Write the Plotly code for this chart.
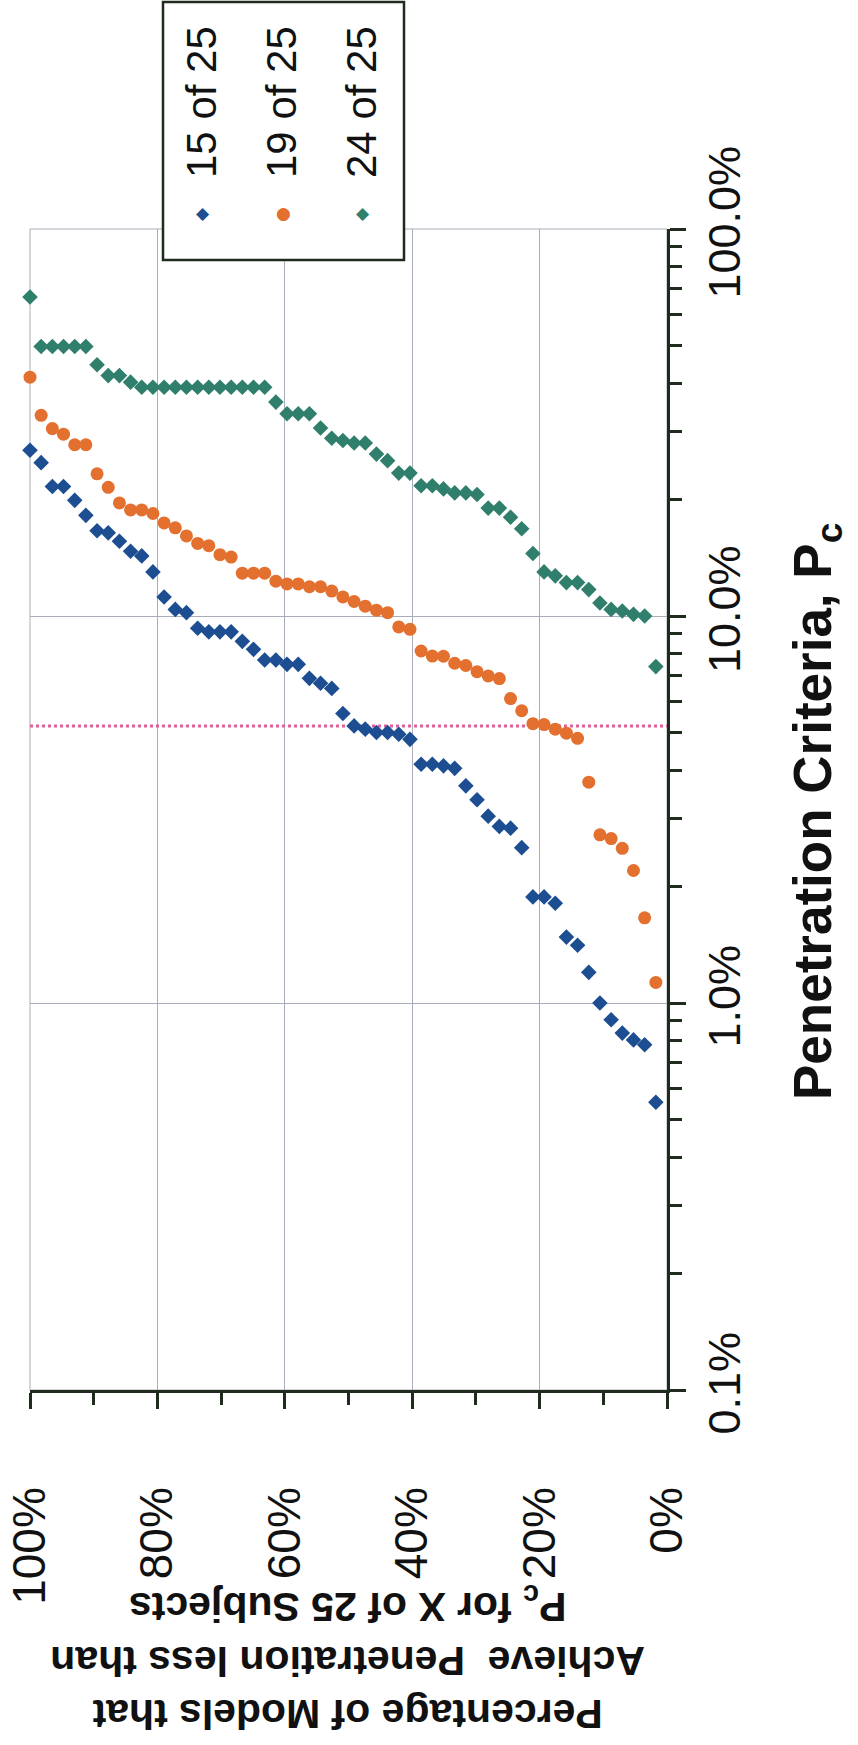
import plotly.graph_objects as go

# ---------------- data ----------------
# Percentage of models (57 models, sorted) -> horizontal axis
pct_of_models = [100.0, 98.25, 96.49, 94.74, 92.98, 91.23, 89.47, 87.72, 85.96, 84.21,
                 82.46, 80.70, 78.95, 77.19, 75.44, 73.68, 71.93, 70.18, 68.42, 66.67,
                 64.91, 63.16, 61.40, 59.65, 57.89, 56.14, 54.39, 52.63, 50.88, 49.12,
                 47.37, 45.61, 43.86, 42.11, 40.35, 38.60, 36.84, 35.09, 33.33, 31.58,
                 29.82, 28.07, 26.32, 24.56, 22.81, 21.05, 19.30, 17.54, 15.79, 14.04,
                 12.28, 10.53, 8.77, 7.02, 5.26, 3.51, 1.75]

# Penetration criteria Pc (%) for "15 of 25"
pen_15_of_25 = [26.8, 24.9, 21.6, 21.6, 19.9, 18.2, 16.6, 16.4, 15.6, 14.7,
                14.3, 13.0, 11.2, 10.4, 10.2, 9.3, 9.1, 9.1, 9.1, 8.6,
                8.2, 7.7, 7.7, 7.5, 7.5, 6.9, 6.7, 6.5, 5.6, 5.2,
                5.1, 5.0, 5.0, 4.95, 4.8, 4.14, 4.14, 4.1, 4.04, 3.64,
                3.35, 3.04, 2.86, 2.83, 2.52, 1.88, 1.88, 1.81, 1.48, 1.41,
                1.2, 1.0, 0.905, 0.836, 0.803, 0.78, 0.554]

# Penetration criteria Pc (%) for "19 of 25"
pen_19_of_25 = [41.4, 33.0, 30.5, 29.5, 27.7, 27.7, 23.3, 21.5, 19.6, 18.8,
                18.8, 18.4, 17.4, 16.9, 16.1, 15.4, 15.2, 14.4, 14.2, 12.9,
                12.9, 12.9, 12.3, 12.1, 12.1, 11.9, 11.9, 11.6, 11.2, 10.9,
                10.6, 10.35, 10.2, 9.37, 9.24, 8.12, 7.88, 7.87, 7.55, 7.45,
                7.18, 7.0, 6.89, 6.12, 5.69, 5.27, 5.24, 5.1, 4.98, 4.83,
                3.72, 2.72, 2.66, 2.51, 2.2, 1.66, 1.13]

# Penetration criteria Pc (%) for "24 of 25"
pen_24_of_25 = [66.7, 49.7, 49.7, 49.7, 49.7, 49.7, 44.6, 41.8, 41.8, 40.2,
                39.0, 39.0, 39.0, 39.0, 39.0, 39.0, 39.0, 39.0, 39.0, 39.0,
                39.0, 39.0, 35.7, 33.3, 33.3, 33.3, 30.6, 28.8, 28.4, 28.0,
                28.0, 26.2, 25.2, 23.4, 23.4, 21.7, 21.7, 21.3, 20.8, 20.8,
                20.6, 19.0, 19.0, 18.0, 16.8, 14.5, 13.0, 12.7, 12.2, 12.2,
                11.7, 10.8, 10.4, 10.3, 10.1, 10.0, 7.4]

series_names = ["15 of 25", "19 of 25", "24 of 25"]

# reference penetration level (dotted line), %
ref_level = 5.2
ref_span = [100, 0]

# tick labels
x_tick_vals = [100, 80, 60, 40, 20, 0]
x_tick_text = ["100%", "80%", "60%", "40%", "20%", "0%"]
x_minor_vals = [90, 70, 50, 30, 10]
y_tick_vals = [0.1, 1, 10, 100]
y_tick_text = ["0.1%", "1.0%", "10.0%", "100.0%"]
y_minor_vals = [0.2, 0.3, 0.4, 0.5, 0.6, 0.7, 0.8, 0.9,
                2, 3, 4, 5, 6, 7, 8, 9,
                20, 30, 40, 50, 60, 70, 80, 90]

# ---------------- style ----------------
W, H = 858, 1745
PL, PR, PT, PB = 30, 667, 229, 1390          # plot area in pixels
BLUE, ORANGE, GREEN = "#1d4e92", "#e3702e", "#2f7f6c"
REF = "#e0609a"
AX = "#1f2b1c"
GRID = "#a9adb9"
FONT = "Liberation Sans, Arial, sans-serif"
TXT = "#111111"


def px(xp):
    return (xp - PL) / (PR - PL)


def py(yp):
    return (PB - yp) / (PB - PT)


fig = go.Figure()

fig.add_trace(go.Scatter(x=ref_span, y=[ref_level, ref_level], mode="lines",
                         line=dict(color=REF, width=3, dash="dot"),
                         showlegend=False, hoverinfo="skip"))

fig.add_trace(go.Scatter(x=pct_of_models, y=pen_15_of_25, mode="markers", name=series_names[0],
                         marker=dict(symbol="diamond", size=12, color=BLUE),
                         cliponaxis=False, showlegend=False))
fig.add_trace(go.Scatter(x=pct_of_models, y=pen_19_of_25, mode="markers", name=series_names[1],
                         marker=dict(symbol="circle", size=13, color=ORANGE),
                         cliponaxis=False, showlegend=False))
fig.add_trace(go.Scatter(x=pct_of_models, y=pen_24_of_25, mode="markers", name=series_names[2],
                         marker=dict(symbol="diamond", size=12, color=GREEN),
                         cliponaxis=False, showlegend=False))

fig.update_layout(
    width=W, height=H,
    margin=dict(l=PL, r=W - PR, t=PT, b=H - PB, pad=0, autoexpand=False),
    paper_bgcolor="white", plot_bgcolor="white",
    showlegend=False,
    font=dict(family=FONT, color=TXT),
    xaxis=dict(
        range=[100, 0], tickmode="array", tickvals=x_tick_vals, ticktext=x_tick_text,
        tickangle=-90, ticks="outside", ticklen=16, tickwidth=2.5, tickcolor=AX,
        showline=True, linecolor=AX, linewidth=2.5, automargin=False,
        showgrid=True, gridcolor=GRID, gridwidth=1, zeroline=False,
        tickfont=dict(family=FONT, size=46, color=TXT),
        ticklabelstandoff=60,
        minor=dict(tickmode="array", tickvals=x_minor_vals, ticks="outside",
                   ticklen=12, tickwidth=2.5, tickcolor=AX, showgrid=False),
    ),
    yaxis=dict(
        type="log", range=[-1, 2], side="right",
        tickmode="array", tickvals=y_tick_vals, ticktext=y_tick_text,
        tickangle=-90, ticks="outside", ticklen=16, tickwidth=2.5, tickcolor=AX,
        showline=True, linecolor=AX, linewidth=2.5, automargin=False,
        showgrid=True, gridcolor=GRID, gridwidth=1, zeroline=False,
        tickfont=dict(family=FONT, size=45, color=TXT),
        ticklabelstandoff=0,
        minor=dict(tickmode="array", tickvals=y_minor_vals, ticks="outside",
                   ticklen=12, tickwidth=2.5, tickcolor=AX, showgrid=False),
    ),
)

# thin frame around plot area (top/left edges)
fig.add_shape(type="rect", xref="x domain", yref="y domain", x0=0, x1=1, y0=0, y1=1,
              line=dict(color=GRID, width=1), layer="below")

# axis titles (rotated as in the reference)
fig.add_annotation(text="<b>Penetration Criteria, P<sub>c</sub></b>",
                   xref="paper", yref="paper", x=px(816), y=py(812),
                   textangle=-90, showarrow=False, xanchor="center", yanchor="middle",
                   font=dict(family=FONT, size=53, color=TXT))
fig.add_annotation(text="<b>Percentage of Models that<br>Achieve  Penetration less than<br>"
                        "P<sub>c</sub> for X of 25 Subjects</b>",
                   xref="paper", yref="paper", x=px(348), y=py(1658),
                   textangle=180, showarrow=False, xanchor="center", yanchor="middle",
                   font=dict(family=FONT, size=41, color=TXT))

# custom rotated legend
fig.add_shape(type="rect", xref="paper", yref="paper",
              x0=px(163), x1=px(404), y0=py(260), y1=py(2),
              line=dict(color=AX, width=2.5), fillcolor="white", layer="above")
leg_x = [201, 281, 361]
leg_sym = ["\u25C6", "\u25CF", "\u25C6"]
leg_col = [BLUE, ORANGE, GREEN]
for name, xl, sym, col in zip(series_names, leg_x, leg_sym, leg_col):
    fig.add_annotation(text=name, xref="paper", yref="paper", x=px(xl), y=py(102),
                       textangle=-90, showarrow=False, xanchor="center", yanchor="middle",
                       font=dict(family=FONT, size=42, color=TXT))
    fig.add_annotation(text=sym, xref="paper", yref="paper", x=px(xl + 2), y=py(213),
                       showarrow=False, xanchor="center", yanchor="middle",
                       font=dict(family="DejaVu Sans", size=17, color=col))

fig.write_html("out.html", config={"displayModeBar": False},
               post_script="document.body.style.margin='0';document.body.style.overflow='hidden';")
